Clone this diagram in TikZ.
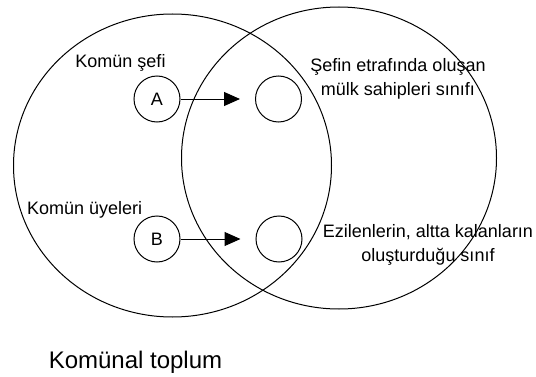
\documentclass[tikz,border=0pt]{standalone}
\usepackage{fontspec}
\setmainfont{Liberation Sans}
\usetikzlibrary{arrows.meta,positioning,shapes.geometric}
\tikzset{
  society/.style={ellipse,draw=black,line width=1pt,inner sep=0pt},
  member/.style={circle,draw=black,line width=1pt,minimum size=46pt,inner sep=0pt,font=\fontsize{18}{22}\selectfont},
  flow/.style={-{Triangle[length=16pt,width=14pt]},line width=1pt,shorten >=15pt},
  note/.style={inner sep=0pt,align=center,font=\fontsize{18}{23.5}\selectfont},
}
\begin{document}
\begin{tikzpicture}[x=1pt,y=1pt]
\useasboundingbox (0,0) rectangle (536,376);

% two overlapping societies
\node[society,minimum width=318pt,minimum height=303pt] (left) at (172.5,210.5) {};
\node[society,minimum width=315pt,minimum height=302pt] (right) at (339,218) {};

\node[member] (A) at (157,277) {A};
\node[member] (A2) at (278.5,277) {};
\node[member] (B) at (157,137) {B};
\node[member] (B2) at (279,137) {};

% Flow arrows
\draw[flow] (A) -- (A2);
\draw[flow] (B) -- (B2);

% labels
\node[note] (chief) at (120.5,313) {Komün şefi};
\node[note,anchor=west] (members) at (27,166) {Komün üyeleri};
\node[note] (owners) at (398,297) {Şefin etrafında oluşan\\mülk sahipleri sınıfı};
\node[note] (oppressed) at (428,131) {Ezilenlerin, altta kalanların\\oluşturduğu sınıf};
\node[inner sep=0pt,font=\fontsize{24}{28}\selectfont] (title) at (135.5,14) {Komünal toplum};
\end{tikzpicture}
\end{document}
